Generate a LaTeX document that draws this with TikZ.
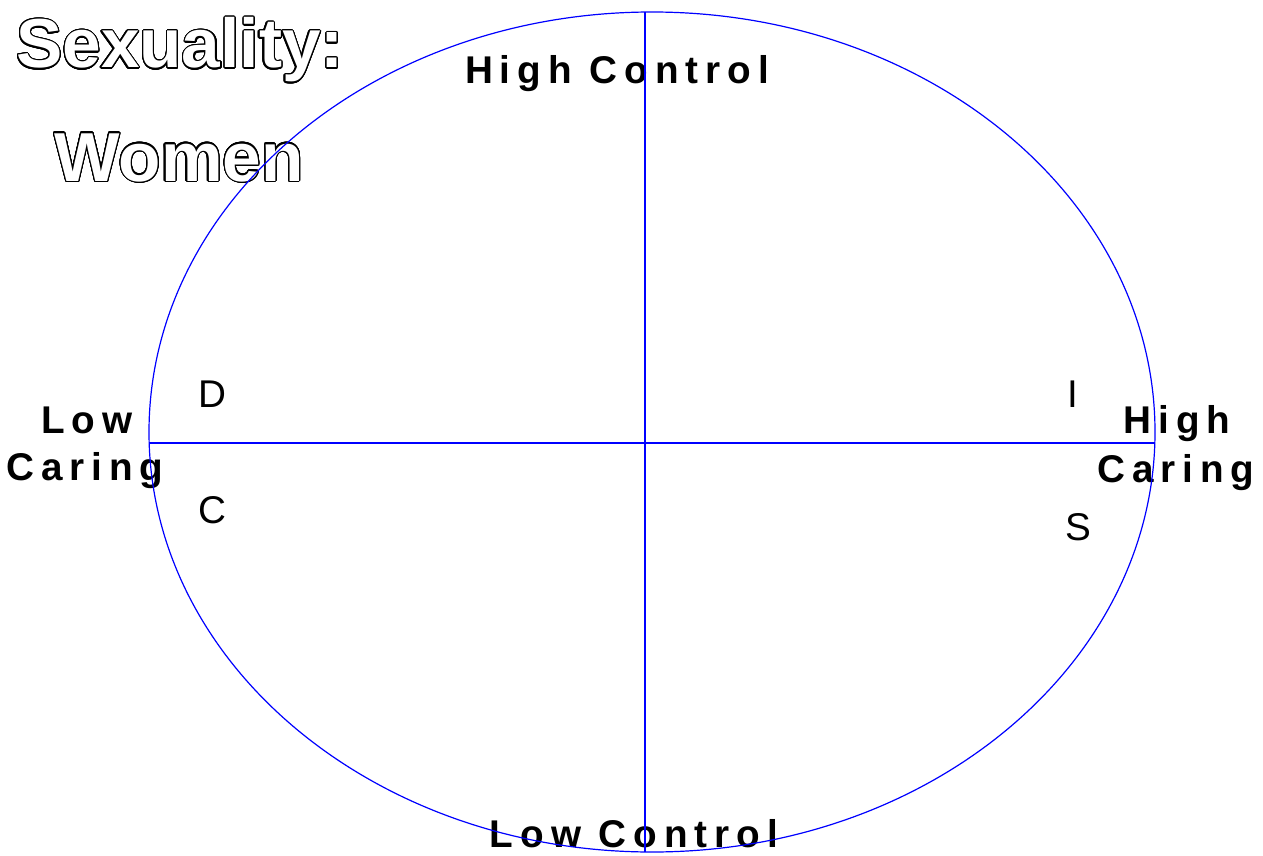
\documentclass[tikz,border=0pt]{standalone}
\usepackage{fontspec}
\setmainfont{Liberation Sans}
\newfontfamily\labelfont[LetterSpace=18]{Liberation Sans}
\usepackage[copies]{contour}
\contourlength{0.9pt}
\contournumber{32}
\usepackage{tikz}
\usetikzlibrary{positioning}
\definecolor{AxisBlue}{RGB}{0,0,255}
\newcommand{\hollow}[1]{\contour{black}{\textcolor{white}{#1}}}

\begin{document}
\begin{tikzpicture}[
  x=0.75pt,y=-0.75pt,
  axislabel/.style={font=\labelfont\bfseries\fontsize{29}{35}\selectfont,inner sep=0pt,anchor=base},
  quadletter/.style={font=\fontsize{29}{35}\selectfont,inner sep=0pt,anchor=base},
  titletext/.style={font=\bfseries\fontsize{52}{60}\selectfont,inner sep=0pt,anchor=base},
  axis/.style={draw=AxisBlue,line width=0.9pt}
]
\useasboundingbox (0,0) rectangle (1263,856);
% title
\node[titletext] (title1) at (180,68) {\hollow{Sexuality:}};
\node[titletext] (title2) at (179,181) {\hollow{Women}};
% axis labels
\node[axislabel] (highctl) at (617,84) {High Control};
\node[axislabel] (lowctl) at (634,847) {Low Control};
\node[axislabel] (lowcare1) at (87,433) {Low};
\node[axislabel] (lowcare2) at (85,480) {Caring};
\node[axislabel] (highcare1) at (1177,433) {High};
\node[axislabel] (highcare2) at (1176,482) {Caring};
% quadrant letters
\node[quadletter] (qd) at (212,407) {D};
\node[quadletter] (qc) at (212,523) {C};
\node[quadletter] (qi) at (1073,407) {I};
\node[quadletter] (qs) at (1078,540) {S};
% circle and cross
\coordinate (centre) at (652,432);
\coordinate (top) at (645,12);
\coordinate (bottom) at (645,852);
\coordinate (left) at (150,443);
\coordinate (right) at (1155,443);
\draw[axis] (centre) ellipse [x radius=377.25pt,y radius=315pt];
\draw[axis] (top) -- (bottom);
\draw[axis] (left) -- (right);
\end{tikzpicture}
\end{document}
